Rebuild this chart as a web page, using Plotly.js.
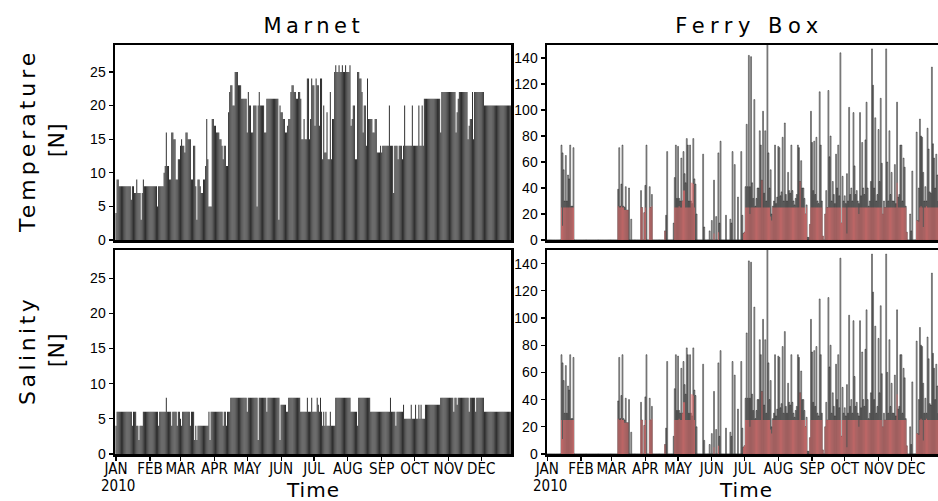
<!DOCTYPE html>
<html>
<head>
<meta charset="utf-8">
<script src="https://cdn.plot.ly/plotly-3.0.1.min.js"></script>
<style>
html,body{margin:0;padding:0;background:#fff;overflow:hidden;width:938px;height:501px;}
#chart{width:944px;height:501px;}
</style>
</head>
<body>
<div id="chart"></div>
<script>
// ---- data (daily counts, 2010) ----
const startDate = '2010-01-01';

const panelTitles = ['Marnet', 'Ferry Box'];
const rowTitles = ['Temperature<br>[N]', 'Salinity<br>[N]'];
const xTitle = 'Time';
const yearLabel = '2010';

const monthTicks = ['2010-01-01','2010-02-01','2010-03-01','2010-04-01','2010-05-01','2010-06-01',
                    '2010-07-01','2010-08-01','2010-09-01','2010-10-01','2010-11-01','2010-12-01'];
const monthLabels = ['JAN','FEB','MAR','APR','MAY','JUN','JUL','AUG','SEP','OCT','NOV','DEC'];

const marnetTickVals = [0,5,10,15,20,25];
const ferryTickVals = [0,20,40,60,80,100,120,140];

const marnetTemp = [
4,9,9,8,8,8,8,8,8,8,
8,8,8,8,6,8,8,7,7,9,
7,7,7,3,7,9,8,8,8,8,
8,8,8,8,8,8,8,8,5,8,
8,8,8,8,10,11,16,11,11,9,
9,16,16,15,15,9,9,12,12,14,
15,14,14,13,16,16,15,15,15,9,
9,14,14,8,3,9,9,8,7,7,
9,9,11,18,12,5,5,5,18,18,
17,17,16,16,16,15,15,14,12,14,
14,11,11,19,22,23,23,20,20,25,
25,25,23,23,23,21,21,21,21,21,
16,22,20,20,16,16,20,20,20,5,
20,22,20,20,20,20,16,16,21,21,
21,21,21,21,21,21,21,21,21,3,
20,19,19,18,18,16,16,17,18,18,
22,23,23,22,22,21,21,22,22,21,
15,15,18,15,15,24,24,15,18,24,
23,23,17,24,23,23,17,24,24,12,
20,13,13,19,12,12,22,12,18,18,
25,26,25,25,26,25,25,26,25,25,
26,25,25,25,26,17,18,20,20,12,
12,25,25,24,24,22,16,20,20,14,
24,18,18,18,18,16,16,18,18,13,
13,13,14,13,14,14,14,14,14,14,
20,14,14,14,7,14,14,14,12,14,
14,14,12,14,20,14,14,14,14,14,
14,20,14,14,14,14,14,20,14,14,
20,14,21,21,21,21,21,21,21,21,
21,21,21,21,21,21,21,16,22,22,
22,22,22,22,22,22,22,22,22,22,
22,16,19,21,22,22,22,22,22,22,
22,22,15,17,18,18,22,15,22,22,
22,22,22,22,22,22,22,20,20,20,
20,20,20,20,20,20,20,20,20,20,
20,20,20,20,20,20,20,20,20,20,
20,20,20,20,20];

const marnetSal = [
4,6,6,6,6,6,6,6,6,6,
6,6,6,6,6,4,6,6,6,4,
4,2,4,4,4,6,6,6,6,6,
6,6,6,6,6,6,6,6,6,4,
6,6,6,6,6,6,8,6,6,6,
6,4,6,6,6,6,4,6,6,5,
4,6,6,6,6,6,6,6,4,6,
6,6,2,4,2,4,4,4,4,4,
4,4,4,4,4,6,2,6,6,6,
6,6,6,6,6,6,6,6,4,6,
6,4,6,6,6,8,8,8,8,8,
8,8,8,8,8,8,8,8,8,8,
6,8,8,8,8,8,8,8,8,8,
2,8,8,8,8,8,8,8,6,8,
8,8,8,8,8,8,8,8,8,8,
2,7,7,7,7,7,6,6,8,8,
8,8,8,8,8,8,8,8,8,6,
6,6,6,6,6,8,6,6,6,8,
6,6,6,6,8,7,6,8,6,4,
6,4,6,4,4,4,6,4,4,4,
4,8,8,8,8,8,8,8,8,8,
8,8,8,8,8,6,6,6,6,6,
6,4,8,8,8,8,8,8,8,8,
8,8,8,6,6,6,6,6,6,6,
6,6,6,6,6,6,6,6,6,6,
6,8,6,6,6,6,4,6,6,6,
6,6,6,7,5,5,5,5,5,5,
7,5,5,5,7,5,5,7,5,7,
5,5,5,7,7,7,7,7,7,7,
7,7,7,7,7,7,7,8,8,8,
8,8,8,8,8,8,8,8,8,6,
8,8,7,8,8,8,8,8,8,8,
8,8,8,6,8,8,8,8,8,6,
8,8,8,8,8,8,8,6,6,6,
6,6,6,6,6,6,6,6,6,6,
6,6,6,6,6,6,6,6,6,6,
6,6,6,6,6];

// Ferry Box: all observations (grey/black) and accepted observations (red)
const ferryAll = [
0,0,0,0,0,0,0,0,0,0,
0,0,0,73,67,54,30,65,30,50,
47,73,26,26,71,0,0,0,0,0,
0,0,0,0,0,0,0,0,0,0,
0,0,0,0,0,0,0,0,0,0,
0,0,0,0,0,0,0,0,0,0,
0,0,0,0,0,39,71,26,43,73,
26,25,41,23,23,40,0,16,0,0,
0,0,0,0,0,0,38,25,0,21,
42,73,0,0,41,25,35,0,0,0,
0,0,0,0,0,0,0,0,7,19,
68,0,0,0,0,0,13,48,73,32,
72,32,30,63,30,68,51,44,78,73,
30,73,30,28,78,47,43,20,0,0,
0,0,0,66,10,0,0,0,0,7,
0,15,0,46,0,18,0,67,13,76,
0,0,0,0,19,0,0,0,16,13,
68,0,58,0,0,33,0,0,68,19,
5,6,41,89,41,142,41,141,44,32,
108,26,32,40,40,84,73,46,99,36,
84,30,152,67,40,54,20,26,30,73,
28,33,72,71,34,37,79,30,90,35,
30,52,38,36,73,38,30,27,32,35,
73,71,45,61,40,40,32,20,27,2,
2,12,99,75,38,76,35,79,30,28,
114,73,30,3,0,20,38,25,115,64,
80,30,45,35,28,66,40,73,34,144,
13,49,30,34,28,51,30,102,35,40,
30,98,57,35,38,30,28,98,34,75,
40,35,77,106,40,26,30,45,147,119,
40,94,30,35,85,45,109,59,20,30,
25,147,60,30,84,35,52,30,30,58,
28,106,33,35,73,73,30,63,56,26,
6,0,0,20,7,53,0,0,0,83,
15,40,93,80,79,52,30,41,30,86,
70,37,36,133,74,63,40,66,50,30,
60,40,30,0,0];

const ferryGood = [
0,0,0,0,0,0,0,0,0,0,
0,0,0,25,11,25,25,25,25,25,
25,25,25,25,25,0,0,0,0,0,
0,0,0,0,0,0,0,0,0,0,
0,0,0,0,0,0,0,0,0,0,
0,0,0,0,0,0,0,0,0,0,
0,0,0,0,0,26,25,25,26,25,
25,23,23,23,23,0,0,0,0,0,
0,0,0,0,0,0,25,25,0,21,
25,0,0,0,25,25,26,0,0,0,
0,0,0,0,0,0,0,0,7,0,
0,0,0,0,0,0,0,25,25,25,
25,26,25,25,30,38,38,25,25,25,
25,25,44,44,43,25,0,0,0,0,
0,0,0,0,0,0,0,0,0,0,
0,0,0,5,0,0,0,6,0,0,
0,0,0,0,0,0,0,0,0,0,
0,0,0,0,0,0,0,0,0,0,
5,6,25,25,25,25,20,25,25,25,
25,25,25,25,25,25,25,46,25,25,
25,25,25,25,25,18,15,25,25,25,
25,25,25,25,25,25,25,25,25,25,
25,25,25,25,25,25,25,25,25,25,
25,25,45,25,25,25,25,20,25,0,
0,12,25,25,25,25,25,25,25,25,
25,25,25,3,0,20,25,25,25,25,
25,25,25,25,25,25,25,25,25,25,
13,25,25,25,25,5,25,25,25,25,
25,25,25,25,25,25,20,25,25,25,
25,25,25,25,25,25,25,25,25,25,
25,25,25,25,25,25,25,25,20,25,
25,25,25,25,25,25,25,25,25,25,
25,44,25,25,25,25,25,25,25,25,
6,0,0,0,0,0,0,0,0,15,
15,14,25,26,25,10,25,25,26,25,
25,25,25,25,25,25,25,25,25,25,
25,25,25,0,0];

// ---- build day categories ----
function dayDates(n){
  const t0 = Date.parse(startDate + 'T00:00:00Z');
  const out = [];
  for (let i = 0; i < n; i++) out.push(new Date(t0 + i*86400000).toISOString().slice(0,10));
  return out;
}

const W = 944, H = 501;
const fx = px => px / W;
const fy = py => 1 - py / H;

const marnetColor = '#242424';
const ferryAllStyle = {color: 'rgba(140,140,140,0.5)', line: {color: 'rgba(10,10,10,0.85)', width: 0.55}};
const ferryGoodStyle = {color: 'rgba(222,108,108,0.8)', line: {width: 0}};

const traces = [
  {type:'bar', x: dayDates(marnetTemp.length), y: marnetTemp, xaxis:'x', yaxis:'y',
   marker:{color: marnetColor, line:{width:0}}},
  {type:'bar', x: dayDates(ferryAll.length), y: ferryAll, xaxis:'x2', yaxis:'y2', marker: ferryAllStyle},
  {type:'bar', x: dayDates(ferryGood.length), y: ferryGood, xaxis:'x2', yaxis:'y2', marker: ferryGoodStyle},
  {type:'bar', x: dayDates(marnetSal.length), y: marnetSal, xaxis:'x3', yaxis:'y3',
   marker:{color: marnetColor, line:{width:0}}},
  {type:'bar', x: dayDates(ferryAll.length), y: ferryAll, xaxis:'x4', yaxis:'y4', marker: ferryAllStyle},
  {type:'bar', x: dayDates(ferryGood.length), y: ferryGood, xaxis:'x4', yaxis:'y4', marker: ferryGoodStyle}
];

const tickFont = {family: 'Liberation Sans, Arial, sans-serif', size: 14, color: '#000'};
const monthFont = {family: 'DejaVu Sans Condensed, Liberation Sans Narrow, Liberation Sans, sans-serif', size: 15, color: '#000'};
const frame = {showline: true, mirror: true, linecolor: '#000', linewidth: 2.5, showgrid: false, zeroline: false};

const leftRange = ['2009-12-31 02:00', '2010-12-28 06:00'];
const rightRange = ['2009-12-31 17:00', '2010-12-30 04:00'];

function xAx(domain, range, labels, anchor){
  return Object.assign({}, frame, {
    type: 'date', domain: domain, range: range, anchor: anchor, fixedrange: true,
    tickmode: 'array', tickvals: monthTicks, ticktext: monthLabels,
    showticklabels: labels, ticks: labels ? 'outside' : '', ticklen: 4, tickwidth: 1.2, tickcolor: '#000',
    tickfont: monthFont, tickangle: 0, ticklabelstandoff: -5
  });
}
function yAx(domain, range, vals, anchor){
  return Object.assign({}, frame, {
    domain: domain, range: range, anchor: anchor, tickmode: 'array', tickvals: vals,
    ticks: 'outside', ticklen: 4, tickwidth: 1.2, tickcolor: '#000', tickfont: tickFont, fixedrange: true
  });
}

const leftDom = [fx(115), fx(511)];
const rightDom = [fx(547), fx(943)];
const topDom = [fy(240), fy(45)];
const botDom = [fy(454), fy(250)];

const titleFont = {family: 'DejaVu Sans, sans-serif', size: 21, color: '#000'};
const labelFont = {family: 'DejaVu Sans, sans-serif', size: 22, color: '#000'};
const timeFont = {family: 'DejaVu Sans, sans-serif', size: 20, color: '#000'};

const layout = {
  width: W, height: H,
  margin: {l:0, r:0, t:0, b:0},
  paper_bgcolor: '#fff', plot_bgcolor: '#fff',
  showlegend: false, barmode: 'overlay', bargap: 0.14,
  xaxis: xAx(leftDom, leftRange, false, 'y'), yaxis: yAx(topDom, [0,29], marnetTickVals, 'x'),
  xaxis2: xAx(rightDom, rightRange, false, 'y2'), yaxis2: yAx(topDom, [0,150], ferryTickVals, 'x2'),
  xaxis3: xAx(leftDom, leftRange, true, 'y3'), yaxis3: yAx(botDom, [0,29], marnetTickVals, 'x3'),
  xaxis4: xAx(rightDom, rightRange, true, 'y4'), yaxis4: yAx(botDom, [0,150], ferryTickVals, 'x4'),
  annotations: [
    {text: panelTitles[0], xref:'paper', yref:'paper', x: fx(314), y: fy(26), showarrow:false, font: titleFont, xanchor:'center', yanchor:'middle'},
    {text: panelTitles[1], xref:'paper', yref:'paper', x: fx(749), y: fy(26), showarrow:false, font: titleFont, xanchor:'center', yanchor:'middle'},
    {text: rowTitles[0], xref:'paper', yref:'paper', x: fx(42), y: fy(141), showarrow:false, font: labelFont, textangle:-90, xanchor:'center', yanchor:'middle'},
    {text: rowTitles[1], xref:'paper', yref:'paper', x: fx(42), y: fy(351), showarrow:false, font: labelFont, textangle:-90, xanchor:'center', yanchor:'middle'},
    {text: xTitle, xref:'paper', yref:'paper', x: fx(313), y: fy(490), showarrow:false, font: timeFont, xanchor:'center', yanchor:'middle'},
    {text: xTitle, xref:'paper', yref:'paper', x: fx(746), y: fy(490), showarrow:false, font: timeFont, xanchor:'center', yanchor:'middle'},
    {text: yearLabel, xref:'paper', yref:'paper', x: fx(118), y: fy(486), showarrow:false, font: monthFont, xanchor:'center', yanchor:'middle'},
    {text: yearLabel, xref:'paper', yref:'paper', x: fx(550), y: fy(486), showarrow:false, font: monthFont, xanchor:'center', yanchor:'middle'}
  ]
};

Plotly.newPlot('chart', traces, layout, {staticPlot: true, displayModeBar: false}).then(function(gd){
  const spacing = ['4.5px','5.5px','4px','3.5px','1px','1px'];
  gd.querySelectorAll('.annotation-text').forEach(function(t, i){
    if (!spacing[i]) return;
    if (i === 2 || i === 3) {
      const first = t.querySelector('tspan.line');
      if (first) first.style.letterSpacing = spacing[i];
    } else {
      t.style.letterSpacing = spacing[i];
    }
  });
});
</script>
</body>
</html>
